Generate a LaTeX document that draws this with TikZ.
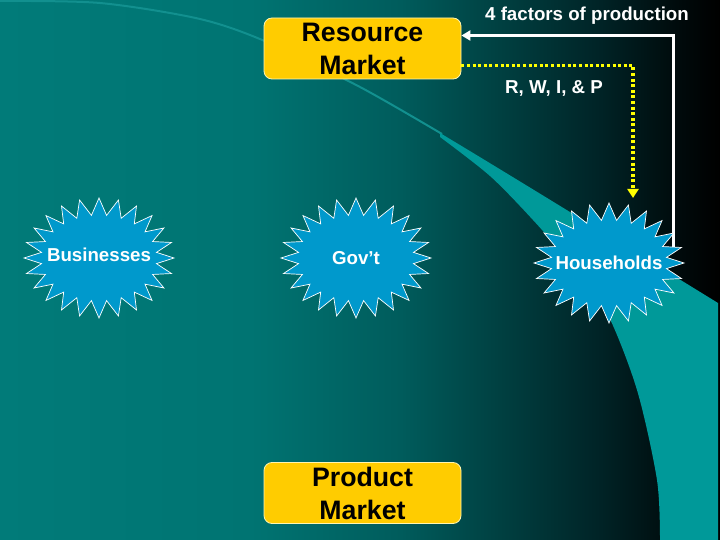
\documentclass[tikz,border=0pt]{standalone}
\usepackage{fontspec}
\setmainfont{Liberation Sans}
\usetikzlibrary{shapes.symbols,arrows.meta}
\definecolor{bgA}{HTML}{017B79}
\definecolor{bgB}{HTML}{007472}
\definecolor{bgC}{HTML}{005C5C}
\definecolor{bgD}{HTML}{004041}
\definecolor{bgE}{HTML}{002326}
\definecolor{bgF}{HTML}{000A0B}
\definecolor{bandteal}{HTML}{009999}
\definecolor{linteal}{HTML}{12908F}
\definecolor{boxyellow}{HTML}{FFCC00}
\definecolor{boxedge}{HTML}{FFF5B0}
\definecolor{starblue}{HTML}{0099CC}
\definecolor{dotyellow}{HTML}{FFFF00}
\pgfdeclarehorizontalshading{bgshade}{100bp}{color(0bp)=(bgA); color(25bp)=(bgA); color(42.4bp)=(bgB); color(52.8bp)=(bgC); color(59.7bp)=(bgD); color(66.7bp)=(bgE); color(72.2bp)=(bgF); color(75bp)=(black); color(100bp)=(black)}
\tikzset{
  market/.style={rectangle, rounded corners=8pt, fill=boxyellow, draw=boxedge, line width=0.8pt,
    minimum width=197pt, minimum height=61pt, align=center, text=black,
    font=\fontsize{26.7pt}{33pt}\selectfont\bfseries},
  burst/.style={starburst, starburst points=24, starburst point height=17pt, random starburst=0,
    fill=starblue, draw=white, line width=0.7pt, minimum width=150pt, minimum height=120pt,
    inner sep=0pt, text=white, font=\fontsize{18.7pt}{22pt}\selectfont\bfseries},
  flowlabel/.style={text=white, font=\fontsize{18.7pt}{22pt}\selectfont\bfseries, inner sep=0pt},
  whitewire/.style={draw=white, line width=3pt, -{Triangle[length=9pt,width=10pt]}},
  yellowwire/.style={draw=dotyellow, line width=3.5pt, dash pattern=on 3pt off 2.6pt,
    -{Triangle[length=9pt,width=11pt]}}
}
\begin{document}
\begin{tikzpicture}[x=1pt,y=-1pt]
\useasboundingbox (0,0) rectangle (720,540);
% background
\fill[shading=bgshade] (0,0) rectangle (720,540);
% teal swoosh
\draw[linteal, line width=2pt] plot[smooth] coordinates {(0,1) (100,3) (200,19) (267,42) (360,87) (442,134)};
\fill[bandteal] (440,133) .. controls (520,181) and (640,255) .. (718,303) -- (718,540) -- (660,540)
  -- plot[smooth] coordinates {(660,540) (657,480) (637,390) (607,313) (572,265) (533,220) (490,176) (440,137)} -- cycle;
% markets
\node[market] (rm) at (362.5,48.5) {Resource\\Market};
\node[market] (pm) at (362.5,493) {Product\\Market};
% connectors
\coordinate (wstart) at (673,250);
\draw[whitewire] (wstart) |- (rm.east |- 0,35.5);
\draw[yellowwire] (rm.east |- 0,65.5) -| (633,198);
% stars
\node[burst] (bus) at (99,258) {\makebox[0pt]{\raisebox{6pt}{Businesses}}};
\node[burst] (gov) at (356,258) {\makebox[0pt]{Gov’t}};
\node[burst] (hh) at (609,263) {\makebox[0pt]{Households}};
% labels
\node[flowlabel] (lab1) at (587,16) {4 factors of production};
\node[flowlabel] (lab2) at (554,88) {R, W, I, \& P};
\end{tikzpicture}
\end{document}
